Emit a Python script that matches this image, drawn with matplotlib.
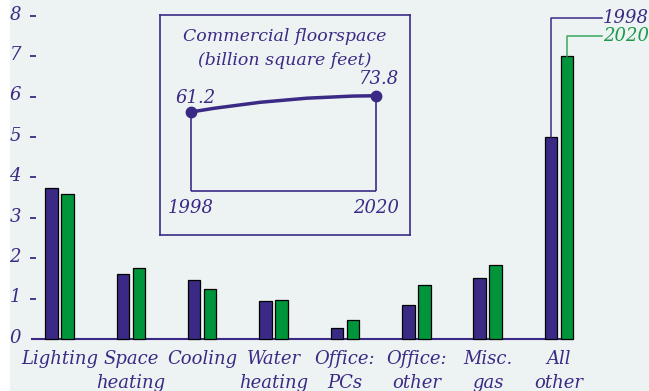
import matplotlib
matplotlib.use("Agg")
import matplotlib.pyplot as plt
from matplotlib.patches import Rectangle, PathPatch
from matplotlib.path import Path
import numpy as np

categories = ["Lighting", "Space\nheating", "Cooling", "Water\nheating",
              "Office:\nPCs", "Office:\nother", "Misc.\ngas", "All\nother"]
values_1998 = [3.75, 1.6, 1.45, 0.93, 0.27, 0.85, 1.5, 5.0]
values_2020 = [3.6, 1.76, 1.25, 0.96, 0.47, 1.34, 1.82, 7.0]
series_names = ["1998", "2020"]
yticks = [0, 1, 2, 3, 4, 5, 6, 7, 8]

inset_years = [1998, 2020]
inset_values = [61.2, 73.8]
inset_title = "Commercial floorspace\n(billion square feet)"

NAVY = "#3b2a85"
GREEN = "#00953a"
BG = "#edf2f2"
FONT = "DejaVu Serif"
FS = 13

W, H = 649, 391
fig = plt.figure(figsize=(W / 100, H / 100), dpi=100)
fig.patch.set_facecolor("white")
fig.patches.append(Rectangle((10 / W, 0), 1, 1, transform=fig.transFigure,
                             facecolor=BG, edgecolor="none", zorder=-10))

# main axes covering the figure (pixel mapping)
ax = fig.add_axes([10 / W, 0, (W - 10) / W, 1])
ax.set_facecolor("none")
x0px, dxpx = 59.5, 71.36
y0px, dypx = 339, 40.4
ax.set_xlim((10 - x0px) / dxpx, (W - x0px) / dxpx)
ax.set_ylim((y0px - H) / dypx, y0px / dypx)
ax.axis("off")

x = np.arange(len(categories))
bw = 0.175
off = 0.112
ax.hlines(0, -0.4, len(categories) - 1 + off + bw / 2, color=NAVY, lw=1.5, zorder=1)
ax.bar(x - off, values_1998, bw, color=NAVY, edgecolor="black", lw=0.9, zorder=2)
ax.bar(x + off, values_2020, bw, color=GREEN, edgecolor="black", lw=0.9, zorder=2)

tfont = dict(family=FONT, style="italic", color=NAVY)
for t in yticks:
    ax.text((21 - x0px) / dxpx, t + 0.03, str(t), ha="right", va="center", fontsize=FS, **tfont)
ax.hlines(yticks[1:], (30 - x0px) / dxpx, (36 - x0px) / dxpx, color=NAVY, lw=1.3)

for i, c in enumerate(categories):
    ax.text(i, (y0px - 350) / dypx, c, ha="center", va="top", fontsize=FS,
            linespacing=1.42, **tfont)

# legend leader lines
i_last = len(categories) - 1
ly1 = (y0px - 18) / dypx
ly2 = (y0px - 36) / dypx
lx_end = (602 - x0px) / dxpx
ax.plot([i_last - off, i_last - off, lx_end], [values_1998[-1], ly1, ly1], color=NAVY, lw=1.1)
ax.plot([i_last + off, i_last + off, lx_end], [values_2020[-1], ly2, ly2], color="#3aa860", lw=1.1)
ax.text(lx_end + 0.01, ly1, series_names[0], ha="left", va="center", fontsize=FS, **tfont)
ax.text(lx_end + 0.01, ly2, series_names[1], ha="left", va="center", fontsize=FS,
        family=FONT, style="italic", color="#1a9a4a")

# inset
bx0, bx1, by0, by1 = 160, 410, 15, 235
ins = fig.add_axes([bx0 / W, 1 - by1 / H, (bx1 - bx0) / W, (by1 - by0) / H])
ins.set_facecolor(BG)
for s in ins.spines.values():
    s.set_color(NAVY)
    s.set_linewidth(1.2)
ins.set_xticks([])
ins.set_yticks([])
pxyr = (376 - 191) / (inset_years[1] - inset_years[0])
pxv = (191 - 112) / inset_values[0]
ins.set_xlim(inset_years[0] - (191 - bx0) / pxyr, inset_years[1] + (bx1 - 376) / pxyr)
ins.set_ylim(-(by1 - 191) / pxv, (191 - by0) / pxv)

ins.hlines(0, inset_years[0], inset_years[1], color=NAVY, lw=1.2)
ins.vlines(inset_years, 0, inset_values, color=NAVY, lw=1.2)
ctrl = ((inset_years[0] + inset_years[1]) / 2, inset_values[1] - 0.3)
path = Path([(inset_years[0], inset_values[0]), ctrl, (inset_years[1], inset_values[1])],
            [Path.MOVETO, Path.CURVE3, Path.CURVE3])
ins.add_patch(PathPatch(path, facecolor="none", edgecolor=NAVY, lw=2.5, zorder=3))
ins.plot(inset_years, inset_values, "o", color=NAVY, ms=7.5, zorder=4)
ins.text(inset_years[0] + 0.5, inset_values[0] + 11, f"{inset_values[0]:.1f}",
         ha="center", va="center", fontsize=FS, **tfont)
ins.text(inset_years[1] + 0.4, inset_values[1] + 13, f"{inset_values[1]:.1f}",
         ha="center", va="center", fontsize=FS, **tfont)
for yr in inset_years:
    ins.text(yr, -13, str(yr), ha="center", va="center", fontsize=FS, **tfont)
ins.text((ins.get_xlim()[0] + ins.get_xlim()[1]) / 2, (191 - 28) / pxv, inset_title,
         ha="center", va="top", fontsize=FS - 0.5, linespacing=1.55, **tfont)

fig.savefig("out.png", dpi=100, facecolor=fig.get_facecolor())
